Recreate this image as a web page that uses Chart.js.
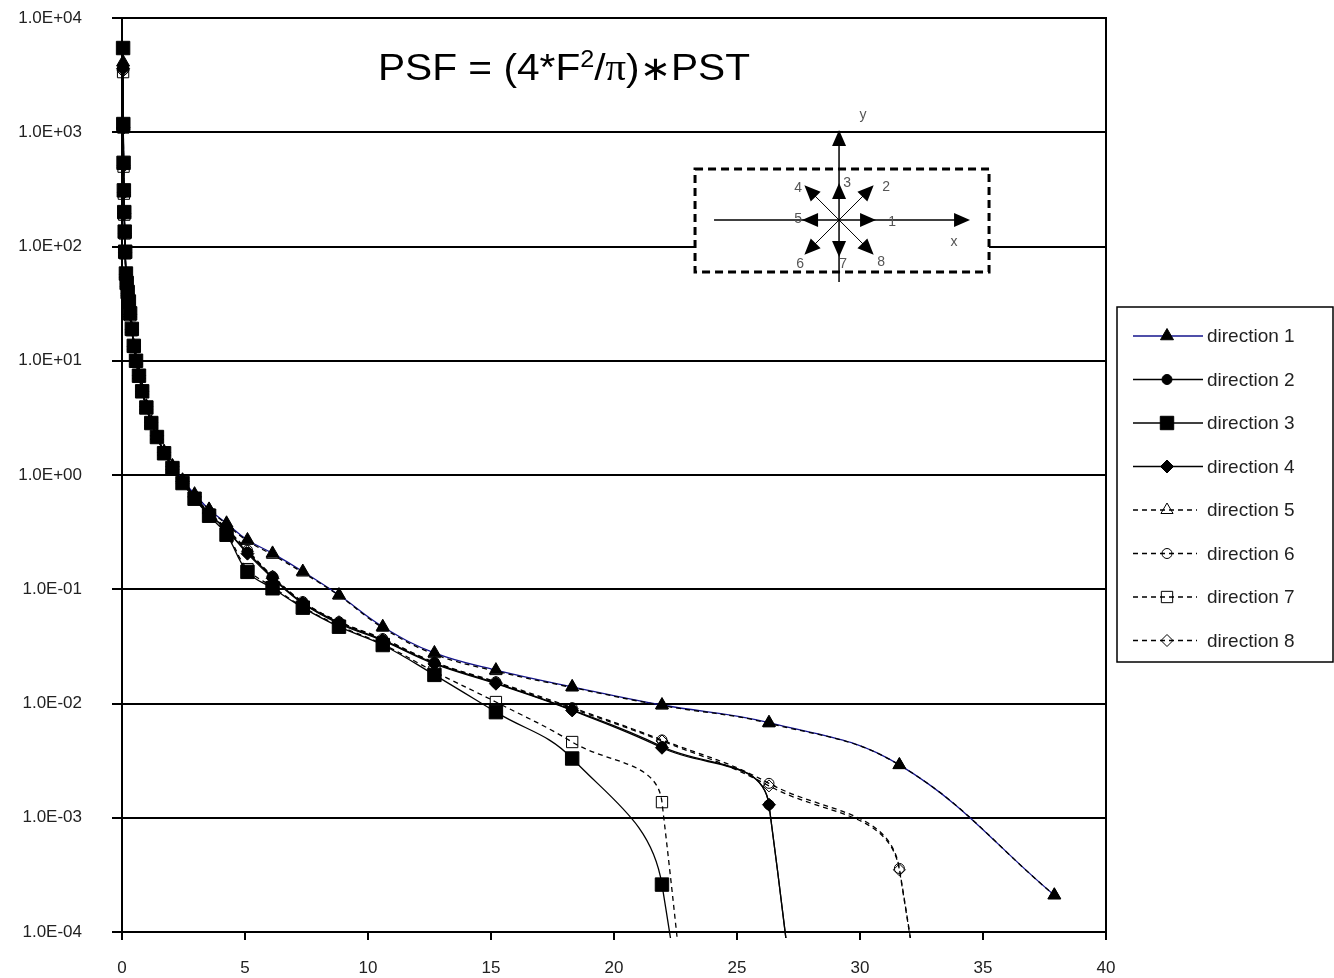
<!DOCTYPE html>
<html>
<head>
<meta charset="utf-8">
<script src="https://cdn.jsdelivr.net/npm/chart.js@4.4.0/dist/chart.umd.min.js"></script>
<style>
  html, body { margin: 0; padding: 0; background: #fff; }
</style>
</head>
<body>
<canvas id="myChart" width="1334" height="978"></canvas>
<script>
// radial distance of each sample (same for every direction)
let radius = [0.044, 0.053, 0.064, 0.076, 0.092, 0.11, 0.13, 0.16, 0.19, 0.23,
  0.28, 0.33, 0.40, 0.48, 0.57, 0.69, 0.82, 0.99, 1.19, 1.42,
  1.71, 2.05, 2.46, 2.95, 3.54, 4.25, 5.1, 6.12, 7.35, 8.82,
  10.6, 12.7, 15.2, 18.3, 21.95, 26.3, 31.6, 37.9];

let dir1 = [4100, 1150, 530, 305, 198, 133, 89, 58, 48, 40, 33, 26, 19, 13.5, 10, 7.5, 5.5, 4.0, 2.9, 2.2,
  1.6, 1.2, 0.9, 0.68, 0.5, 0.378, 0.27, 0.206, 0.143, 0.089, 0.047, 0.0277, 0.0196, 0.014, 0.0097, 0.0068, 0.0029, 0.00021];
let dir2 = [3700, 1120, 520, 300, 195, 132, 88, 57, 47, 39, 32, 25.5, 18.8, 13.3, 9.9, 7.4, 5.4, 3.95, 2.9, 2.2,
  1.58, 1.18, 0.88, 0.65, 0.46, 0.33, 0.21, 0.128, 0.076, 0.051, 0.036, 0.0226, 0.0151, 0.0088, 0.0042, 0.0013, 1e-18];
let dir3 = [5460, 1180, 540, 310, 200, 135, 90, 58, 48, 40, 33, 26, 19, 13.5, 10, 7.4, 5.4, 3.9, 2.85, 2.15,
  1.55, 1.15, 0.85, 0.62, 0.44, 0.30, 0.142, 0.102, 0.069, 0.047, 0.0325, 0.0178, 0.0084, 0.0033, 0.00026, 1e-13];
let dir4 = [3600, 1100, 515, 298, 194, 131, 88, 57, 47, 39, 32, 25.5, 18.8, 13.3, 9.9, 7.4, 5.4, 3.95, 2.9, 2.2,
  1.58, 1.18, 0.88, 0.65, 0.46, 0.33, 0.205, 0.125, 0.075, 0.05, 0.0355, 0.0222, 0.0149, 0.0087, 0.0041, 0.0013, 1e-18];
let dir5 = [3800, 1120, 520, 300, 196, 132, 88, 58, 47, 40, 33, 26, 19, 13.4, 10, 7.5, 5.5, 4.0, 2.9, 2.2,
  1.6, 1.2, 0.9, 0.67, 0.5, 0.37, 0.265, 0.2, 0.14, 0.088, 0.046, 0.027, 0.0192, 0.0138, 0.0096, 0.0067, 0.0029, 0.00021];
let dir6 = [3500, 1090, 510, 296, 193, 131, 87, 57, 47, 39, 32, 25.5, 18.8, 13.3, 9.9, 7.4, 5.4, 3.95, 2.9, 2.2,
  1.58, 1.18, 0.88, 0.65, 0.47, 0.34, 0.22, 0.13, 0.078, 0.052, 0.037, 0.023, 0.0155, 0.0092, 0.0048, 0.002, 0.00036, 1e-18];
let dir7 = [3360, 1100, 500, 290, 190, 130, 87, 57, 47, 39, 32, 25, 18.5, 13.2, 9.8, 7.3, 5.4, 3.9, 2.85, 2.15,
  1.55, 1.15, 0.85, 0.62, 0.45, 0.31, 0.15, 0.105, 0.07, 0.048, 0.033, 0.019, 0.0103, 0.0046, 0.00137, 1e-17];
let dir8 = [3450, 1080, 505, 294, 192, 130, 87, 57, 47, 39, 32, 25.5, 18.8, 13.3, 9.9, 7.4, 5.4, 3.95, 2.9, 2.2,
  1.58, 1.18, 0.88, 0.65, 0.47, 0.34, 0.215, 0.13, 0.077, 0.052, 0.0365, 0.0228, 0.0153, 0.009, 0.0047, 0.0019, 0.00035, 1e-18];

let labels = ["direction 1", "direction 2", "direction 3", "direction 4",
  "direction 5", "direction 6", "direction 7", "direction 8"];
let yTicks = [1e-4, 1e-3, 1e-2, 1e-1, 1e0, 1e1, 1e2, 1e3, 1e4];
let xTicks = [0, 5, 10, 15, 20, 25, 30, 35, 40];

const FONT = "'Liberation Sans', Arial, sans-serif";

function pts(values) {
  return values.map((v, i) => ({ x: radius[i], y: v }));
}

let styles = [
  { line: '#14148c', dash: [], point: 'triangle', r: 7.5, fill: '#000' },
  { line: '#000', dash: [], point: 'circle', r: 5, fill: '#000' },
  { line: '#000', dash: [], point: 'rect', r: 9.5, fill: '#000' },
  { line: '#000', dash: [], point: 'rectRot', r: 6.5, fill: '#000' },
  { line: '#000', dash: [5, 4], point: 'triangle', r: 7, fill: 'rgba(0,0,0,0)' },
  { line: '#000', dash: [5, 4], point: 'circle', r: 5, fill: 'rgba(0,0,0,0)' },
  { line: '#000', dash: [5, 4], point: 'rect', r: 8, fill: 'rgba(0,0,0,0)' },
  { line: '#000', dash: [5, 4], point: 'rectRot', r: 6, fill: 'rgba(0,0,0,0)' }
];
let series = [dir1, dir2, dir3, dir4, dir5, dir6, dir7, dir8];

let datasets = series.map((vals, i) => ({
  label: labels[i],
  data: pts(vals),
  borderColor: styles[i].line,
  borderWidth: 1.3,
  borderDash: styles[i].dash,
  pointStyle: styles[i].point,
  pointRadius: styles[i].r,
  pointBackgroundColor: styles[i].fill,
  pointBorderColor: '#000',
  pointBorderWidth: 1,
  tension: 0.4,
  clip: { left: 12, top: 12, right: 12, bottom: 6 },
  order: i === 0 ? 1 : 0
}));

function fmtTick(v) {
  const e = Math.round(Math.log10(v));
  return '1.0E' + (e < 0 ? '-' : '+') + String(Math.abs(e)).padStart(2, '0');
}

// frame around the plot area (top and right sides)
const frame = {
  id: 'frame',
  afterDatasetsDraw(chart) {
    const { ctx, chartArea: a } = chart;
    ctx.save();
    ctx.strokeStyle = '#000';
    ctx.lineWidth = 2;
    ctx.strokeRect(a.left, a.top, a.right - a.left, a.bottom - a.top);
    ctx.restore();
  }
};

// formula text inside the plot
const formula = {
  id: 'formula',
  afterDraw(chart) {
    const { ctx, chartArea: a } = chart;
    const parts = [
      { t: 'PSF = (4*F', f: '37px ' + FONT, dy: 0 },
      { t: '2', f: '23px ' + FONT, dy: -13 },
      { t: '/', f: '37px ' + FONT, dy: 0 },
      { t: 'π', f: '37px "Liberation Serif", serif', dy: 0 },
      { t: ')', f: '37px ' + FONT, dy: 0 },
      { t: '∗', f: '34px "DejaVu Sans", sans-serif', dy: 0 },
      { t: 'PST', f: '37px ' + FONT, dy: 0 }
    ];
    ctx.save();
    let w = 0;
    parts.forEach(p => { ctx.font = p.f; p.w = ctx.measureText(p.t).width; w += p.w; });
    const x0 = a.left + 256, target = 372;
    ctx.translate(x0, a.top + 62);
    ctx.scale(target / w, 1);
    ctx.fillStyle = '#000';
    ctx.textBaseline = 'alphabetic';
    let x = 0;
    parts.forEach(p => { ctx.font = p.f; ctx.fillText(p.t, x, p.dy); x += p.w; });
    ctx.restore();
  }
};

// small sketch of the eight directions
const inset = {
  id: 'inset',
  afterDraw(chart) {
    const { ctx, chartArea: a } = chart;
    const cx = a.left + (a.right - a.left) * 0.7287;
    const cy = a.top + (a.bottom - a.top) * 0.221;
    const line = (x1, y1, x2, y2) => { ctx.beginPath(); ctx.moveTo(x1, y1); ctx.lineTo(x2, y2); ctx.stroke(); };
    const arrow = (ang, dist, len, half) => {
      const tx = cx + Math.cos(ang) * dist, ty = cy + Math.sin(ang) * dist;
      const bx = cx + Math.cos(ang) * (dist - len), by = cy + Math.sin(ang) * (dist - len);
      const nx = -Math.sin(ang) * half, ny = Math.cos(ang) * half;
      ctx.beginPath();
      ctx.moveTo(tx, ty);
      ctx.lineTo(bx + nx, by + ny);
      ctx.lineTo(bx - nx, by - ny);
      ctx.closePath();
      ctx.fill();
    };
    ctx.save();
    ctx.fillStyle = '#fff';
    ctx.fillRect(cx - 144, cy - 51, 294, 103);
    ctx.strokeStyle = '#000';
    ctx.lineWidth = 3;
    ctx.setLineDash([8, 5]);
    ctx.strokeRect(cx - 144, cy - 51, 294, 103);
    ctx.setLineDash([]);
    ctx.fillStyle = '#000';
    ctx.lineWidth = 1.5;
    line(cx - 125, cy, cx + 120, cy);
    line(cx, cy + 62, cx, cy - 78);
    arrow(0, 131, 16, 7);
    arrow(-Math.PI / 2, 90, 16, 7);
    ctx.lineWidth = 1;
    for (let k = 0; k < 8; k++) {
      const ang = -k * Math.PI / 4;
      const diag = k % 2 === 1;
      const d = diag ? 49 : 37;
      if (diag) line(cx, cy, cx + Math.cos(ang) * (d - 8), cy + Math.sin(ang) * (d - 8));
      arrow(ang, d, 16, 7);
    }
    ctx.fillStyle = '#555';
    ctx.font = '14px ' + FONT;
    ctx.textAlign = 'center';
    ctx.textBaseline = 'middle';
    const lab = [['1', 53, 2], ['2', 47, -33], ['3', 8, -37], ['4', -41, -32], ['5', -41, -1],
      ['6', -39, 44], ['7', 4, 44], ['8', 42, 42], ['y', 24, -105], ['x', 115, 22]];
    lab.forEach(l => ctx.fillText(l[0], cx + l[1], cy + l[2]));
    ctx.restore();
  }
};

// boxed legend on the right with line + marker samples
const legendBox = {
  id: 'legendBox',
  afterDraw(chart) {
    const { ctx, chartArea: a } = chart;
    const lx = a.right + 11, ly = 307, lw = 216, lh = 355;
    ctx.save();
    ctx.fillStyle = '#fff';
    ctx.fillRect(lx, ly, lw, lh);
    ctx.strokeStyle = '#000';
    ctx.lineWidth = 1.5;
    ctx.strokeRect(lx, ly, lw, lh);
    labels.forEach((lab, i) => {
      const s = styles[i];
      const y = 336 + i * 43.5;
      ctx.strokeStyle = s.line;
      ctx.lineWidth = 1.3;
      ctx.setLineDash(s.dash);
      ctx.beginPath();
      ctx.moveTo(lx + 16, y);
      ctx.lineTo(lx + (s.dash.length ? 80 : 86), y);
      ctx.stroke();
      ctx.setLineDash([]);
      ctx.fillStyle = s.fill;
      ctx.strokeStyle = '#000';
      ctx.lineWidth = 1;
      Chart.helpers.drawPoint(ctx, { pointStyle: s.point, radius: s.r, rotation: 0, borderWidth: 1 }, lx + 50, y);
      ctx.fillStyle = '#222';
      ctx.font = '19px ' + FONT;
      ctx.textBaseline = 'middle';
      ctx.fillText(lab, lx + 90, y + 1);
    });
    ctx.restore();
  }
};

let ctx = document.getElementById("myChart").getContext('2d');
let myChart = new Chart(ctx, {
  type: 'line',
  data: { datasets: datasets },
  options: {
    responsive: false,
    animation: false,
    layout: { padding: { top: 18, right: 228, left: 0, bottom: 0 } },
    elements: { line: { capBezierPoints: false } },
    plugins: { legend: { display: false }, tooltip: { enabled: false } },
    scales: {
      x: {
        type: 'linear', min: 0, max: 40,
        afterBuildTicks: s => { s.ticks = xTicks.map(v => ({ value: v })); },
        ticks: { font: { family: FONT, size: 17 }, color: '#222', padding: 18, maxRotation: 0 },
        grid: { drawOnChartArea: false, tickLength: 8, color: '#000', lineWidth: 2 },
        border: { color: '#000', width: 2 },
        afterFit: s => { s.height = 46; s.paddingLeft = 0; s.paddingRight = 0; }
      },
      y: {
        type: 'logarithmic', min: 1e-4, max: 1e4,
        afterBuildTicks: s => { s.ticks = yTicks.map(v => ({ value: v })); },
        ticks: { callback: v => fmtTick(v), font: { family: FONT, size: 17 }, color: '#222', padding: 30, autoSkip: false },
        grid: { color: '#000', lineWidth: 2, tickLength: 10 },
        border: { color: '#000', width: 2 },
        afterFit: s => { s.width = 122; s.paddingTop = 0; s.paddingBottom = 0; }
      }
    }
  },
  plugins: [frame, formula, inset, legendBox]
});
</script>
</body>
</html>
